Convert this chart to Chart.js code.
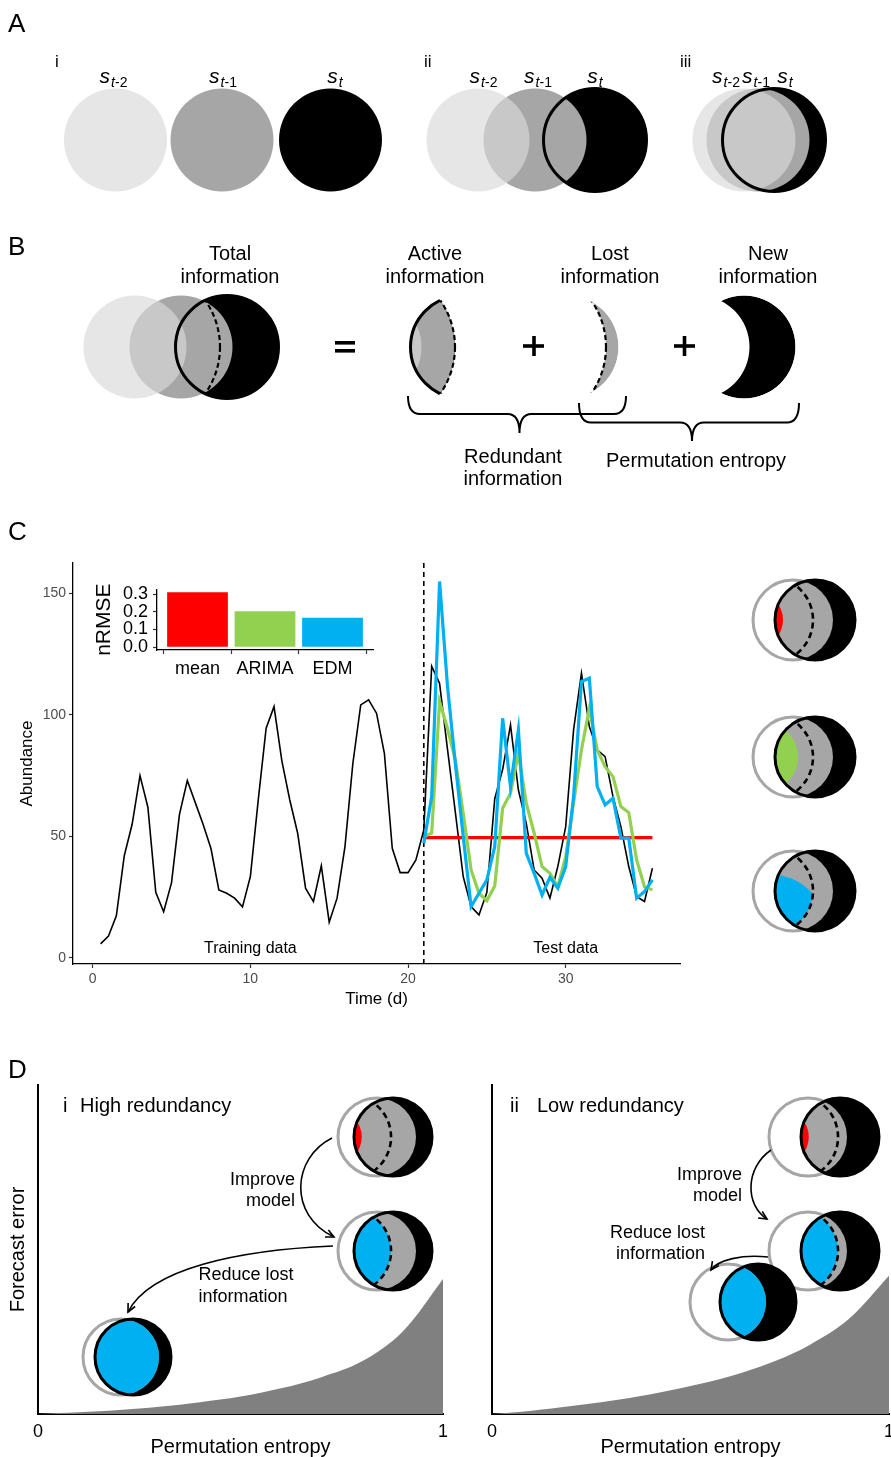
<!DOCTYPE html>
<html>
<head>
<meta charset="utf-8">
<script src="https://cdn.jsdelivr.net/npm/chart.js@4.4.0/dist/chart.umd.min.js"></script>
<style>
  html, body { margin: 0; padding: 0; background: #fff; }
  #page { position: relative; width: 891px; height: 1457px; overflow: hidden; background: #fff; }
  #page canvas { position: absolute; }
  #art { left: 0; top: 0; pointer-events: none; }
</style>
</head>
<body>
<div id="page">
  <canvas id="ts" width="700" height="480" style="left:0;top:540px"></canvas>
  <canvas id="err" width="300" height="110" style="left:90px;top:575px"></canvas>
  <canvas id="dHigh" width="460" height="387" style="left:0;top:1070px"></canvas>
  <canvas id="dLow" width="421" height="387" style="left:470px;top:1070px"></canvas>
  <canvas id="art" width="891" height="1457"></canvas>
</div>
<script>
// ---------- data ----------
const days = [0.5, 1, 1.5, 2, 2.5, 3, 3.5, 4, 4.5, 5, 5.5, 6, 6.5, 7, 7.5, 8, 8.5, 9, 9.5, 10,
  10.5, 11, 11.5, 12, 12.5, 13, 13.5, 14, 14.5, 15, 15.5, 16, 16.5, 17, 17.5, 18, 18.5, 19, 19.5, 20,
  20.5, 21, 21.5, 22, 22.5, 23, 23.5, 24, 24.5, 25, 25.5, 26, 26.5, 27, 27.5, 28, 28.5, 29, 29.5, 30,
  30.5, 31, 31.5, 32, 32.5, 33, 33.5, 34, 34.5, 35, 35.5];
const observed = [5.8, 9.0, 17.3, 42, 55, 75, 62, 27, 19, 31, 59, 73, 64, 55, 45, 28, 26.6, 24.6, 21, 33.5,
  65, 94.5, 103.4, 81, 65, 51.3, 28.7, 23.2, 37.9, 14.7, 24.6, 45.8, 80, 104.1, 106.2, 100.7, 84.2, 45.1, 35.1, 35.1,
  40.3, 52.7, 120, 113, 86, 60, 33.5, 21.1, 17.7, 27, 65.5, 77.5, 95.9, 69.1, 55.4, 36.2, 32.8, 24.6, 37.6, 54,
  93.8, 117.2, 95.2, 85.6, 82.8, 66.4, 54, 37.6, 25.2, 23.2, 36.9];

const forecastDays = [21, 21.5, 22, 22.5, 23, 23.5, 24, 24.5, 25, 25.5, 26, 26.5, 27, 27.5, 28,
  28.5, 29, 29.5, 30, 30.5, 31, 31.5, 32, 32.5, 33, 33.5, 34, 34.5, 35, 35.5];
const meanForecast = [49.5, 49.5, 49.5, 49.5, 49.5, 49.5, 49.5, 49.5, 49.5, 49.5, 49.5, 49.5, 49.5, 49.5, 49.5,
  49.5, 49.5, 49.5, 49.5, 49.5, 49.5, 49.5, 49.5, 49.5, 49.5, 49.5, 49.5, 49.5, 49.5, 49.5];
const arimaForecast = [50, 51.3, 105.5, 94.5, 81.5, 59.5, 36.2, 26.6, 23.6, 29.6, 61.6, 67.8, 84.2, 63.7, 51.3,
  37.6, 34.8, 29.3, 41.7, 63.7, 85.6, 102.7, 85.6, 78.7, 74.6, 62.3, 59.8, 40.3, 29.3, 28.0];
const edmForecast = [47.2, 66.4, 154.9, 112, 80, 50, 21.1, 26.6, 32.1, 45.8, 98.6, 70.5, 93.8, 43.1, 34.8,
  25.9, 33.2, 28.7, 37.6, 66.4, 113.7, 115.1, 70.5, 63, 65.7, 49.3, 49.3, 24.6, 27.3, 32.1];

const splitDay = 21;
const timeTicks = [0, 10, 20, 30];
const abundanceTicks = [0, 50, 100, 150];
const phaseLabels = ['Training data', 'Test data'];
const phaseLabelDays = [10, 30];

const methods = ['mean', 'ARIMA', 'EDM'];
const methodColors = ['#ff0000', '#92d050', '#00b0f0'];
const nrmse = [0.311, 0.203, 0.167];
const nrmseTicks = [0, 0.1, 0.2, 0.3];

const entropyGrid = [0, 0.1, 0.2, 0.3, 0.4, 0.5, 0.6, 0.7, 0.8, 0.9, 1];
const errorHighRedundancy = [0, 0.005, 0.012, 0.022, 0.036, 0.053, 0.078, 0.112, 0.16, 0.25, 0.41];
const errorLowRedundancy = [0, 0.01, 0.024, 0.04, 0.06, 0.085, 0.115, 0.155, 0.21, 0.29, 0.42];
const entropyTicks = [0, 1];

// ---------- shared style ----------
const FONT = "'Liberation Sans', Arial, Helvetica, sans-serif";
Chart.defaults.font.family = FONT;
Chart.defaults.animation = false;
Chart.defaults.plugins.legend.display = false;
Chart.defaults.plugins.tooltip.enabled = false;

const pts = (xs, ys) => xs.map((x, i) => ({ x, y: ys[i] }));
const fixTicks = values => scale => { scale.ticks = values.map(v => ({ value: v })); };
const noSidePad = scale => { scale.paddingLeft = 0; scale.paddingRight = 0; };

// ---------- panel C: abundance time series ----------
const yLo = -2.5, yHi = 162.5;
const phaseText = {
  id: 'phaseText',
  afterDatasetsDraw(chart) {
    const { ctx, scales: { x }, chartArea } = chart;
    ctx.save();
    ctx.font = `16px ${FONT}`;
    ctx.fillStyle = '#000';
    ctx.textAlign = 'center';
    ctx.textBaseline = 'alphabetic';
    phaseLabels.forEach((t, i) => ctx.fillText(t, x.getPixelForValue(phaseLabelDays[i]), chartArea.bottom - 11));
    ctx.restore();
  }
};

new Chart(document.getElementById('ts'), {
  type: 'line',
  data: {
    datasets: [
      { label: 'EDM', data: pts(forecastDays, edmForecast), borderColor: '#00b0f0', borderWidth: 3.2, order: 0 },
      { label: 'ARIMA', data: pts(forecastDays, arimaForecast), borderColor: '#92d050', borderWidth: 3.2, order: 1 },
      { label: 'mean', data: pts(forecastDays, meanForecast), borderColor: '#ff0000', borderWidth: 3.2, order: 2 },
      { label: 'Observed', data: pts(days, observed), borderColor: '#000', borderWidth: 1.6, order: 3 },
      { label: 'split', data: [{ x: splitDay, y: yLo }, { x: splitDay, y: yHi }], borderColor: '#000',
        borderWidth: 1.6, borderDash: [5, 4], order: 4 }
    ]
  },
  options: {
    responsive: false,
    elements: { point: { radius: 0 }, line: { tension: 0, fill: false, borderCapStyle: 'butt', borderJoinStyle: 'miter' } },
    layout: { padding: { left: 0, top: 23, right: 20, bottom: 0 } },
    scales: {
      x: {
        type: 'linear', min: -1.25, max: 37.25,
        afterBuildTicks: fixTicks(timeTicks),
        afterFit: s => { s.height = 56; noSidePad(s); },
        ticks: { font: { size: 14 }, color: '#4d4d4d', padding: 3, maxRotation: 0, autoSkip: false },
        grid: { drawOnChartArea: false, drawTicks: true, tickLength: 4, color: '#333', tickWidth: 1.2 },
        border: { display: true, color: '#000', width: 1.3 },
        title: { display: true, text: 'Time (d)', color: '#000', font: { size: 17, lineHeight: 1.2 }, padding: { top: 0, bottom: 10 } }
      },
      y: {
        type: 'linear', min: yLo, max: yHi,
        afterBuildTicks: fixTicks(abundanceTicks),
        afterFit: s => { s.width = 73; },
        ticks: { font: { size: 14 }, color: '#4d4d4d', padding: 3, autoSkip: false },
        grid: { drawOnChartArea: false, drawTicks: true, tickLength: 4, color: '#333', tickWidth: 1.2 },
        border: { display: true, color: '#000', width: 1.3 },
        title: { display: true, text: 'Abundance', color: '#000', font: { size: 17, lineHeight: 1.2 }, padding: { top: 17, bottom: 0 } }
      }
    }
  },
  plugins: [phaseText]
});

// ---------- panel C inset: forecast skill ----------
new Chart(document.getElementById('err'), {
  type: 'bar',
  data: {
    datasets: [{ data: pts([1, 2, 3], nrmse), backgroundColor: methodColors, borderWidth: 0,
      categoryPercentage: 1, barPercentage: 0.9 }]
  },
  options: {
    responsive: false,
    layout: { padding: { left: 0, top: 14.3, right: 17, bottom: 0 } },
    scales: {
      x: {
        type: 'linear', min: 0.4, max: 3.6, offset: false,
        afterBuildTicks: fixTicks([1, 2, 3]),
        afterFit: s => { s.height = 35; noSidePad(s); },
        ticks: { font: { size: 18 }, color: '#000', padding: 4, maxRotation: 0, autoSkip: false, callback: v => methods[v - 1] },
        grid: { drawOnChartArea: false, drawTicks: true, tickLength: 4, color: '#333', tickWidth: 1.2 },
        border: { display: true, color: '#000', width: 1.3 }
      },
      y: {
        type: 'linear', min: -0.0156, max: 0.327,
        afterBuildTicks: fixTicks(nrmseTicks),
        afterFit: s => { s.width = 67; },
        ticks: { font: { size: 18, lineHeight: 1.0 }, color: '#000', padding: 5, autoSkip: false, callback: v => v.toFixed(1) },
        grid: { drawOnChartArea: false, drawTicks: true, tickLength: 4, color: '#333', tickWidth: 1.2 },
        border: { display: true, color: '#000', width: 1.3 },
        title: { display: true, text: 'nRMSE', color: '#000', font: { size: 21, lineHeight: 1.2 }, padding: { top: 2, bottom: 0 } }
      }
    }
  }
});

// ---------- panel D: forecast error vs permutation entropy ----------
function entropyChart(id, curve, showTitle, yWidth, padRight) {
  return new Chart(document.getElementById(id), {
    type: 'line',
    data: { datasets: [{ data: pts(entropyGrid, curve), borderWidth: 0, borderColor: 'rgba(0,0,0,0)',
      backgroundColor: '#808080', fill: 'origin', pointRadius: 0, tension: 0.35 }] },
    options: {
      responsive: false,
      layout: { padding: { left: 0, top: 15, right: padRight, bottom: 0 } },
      scales: {
        x: {
          type: 'linear', min: 0, max: 1,
          afterBuildTicks: fixTicks(entropyTicks),
          afterFit: s => { s.height = 43; noSidePad(s); },
          ticks: { font: { size: 18, lineHeight: 1.0 }, color: '#000', padding: 1, maxRotation: 0, autoSkip: false },
          grid: { display: false },
          border: { display: true, color: '#000', width: 2 },
          title: { display: true, text: 'Permutation entropy', color: '#000', font: { size: 20, lineHeight: 1.0 }, padding: { top: 0, bottom: 0 } }
        },
        y: {
          type: 'linear', min: 0, max: 1,
          afterFit: s => { s.width = yWidth; },
          ticks: { display: false },
          grid: { display: false },
          border: { display: true, color: '#000', width: 2 },
          title: { display: showTitle, text: 'Forecast error', color: '#000', font: { size: 20, lineHeight: 1.0 }, padding: { top: 8, bottom: 0 } }
        }
      }
    }
  });
}
entropyChart('dHigh', errorHighRedundancy, true, 38, 17);
entropyChart('dLow', errorLowRedundancy, false, 22, 2);

// ---------- schematic drawings ----------
const cv = document.getElementById('art');
const ctx = cv.getContext('2d');
const GREY = '#a6a6a6';
const PALE = 'rgba(217,217,217,0.66)';

function circlePath(x, y, r) { ctx.beginPath(); ctx.arc(x, y, r, 0, Math.PI * 2); }
function fillCircle(x, y, r, c) { circlePath(x, y, r); ctx.fillStyle = c; ctx.fill(); }
function strokeCircle(x, y, r, c, w, dash) {
  circlePath(x, y, r); ctx.strokeStyle = c; ctx.lineWidth = w; ctx.setLineDash(dash || []); ctx.stroke(); ctx.setLineDash([]);
}
function clipCircle(x, y, r) { circlePath(x, y, r); ctx.clip(); }
function clipOutsideCircle(x, y, r) {
  ctx.beginPath(); ctx.rect(-2000, -2000, 5000, 5000); ctx.arc(x, y, r, 0, Math.PI * 2); ctx.clip('evenodd');
}
function label(str, x, y, size, align, weight) {
  ctx.font = `${weight || 'normal'} ${size}px ${FONT}`;
  ctx.textAlign = align || 'center'; ctx.textBaseline = 'alphabetic'; ctx.fillStyle = '#000';
  ctx.fillText(str, x, y);
}
function stateLabel(cx, y, lag) {
  const big = `italic 21px ${FONT}`, subI = `italic 14px ${FONT}`, subN = `14px ${FONT}`;
  ctx.font = big; const ws = ctx.measureText('s').width;
  ctx.font = subI; const wt = ctx.measureText('t').width;
  ctx.font = subN; const wn = lag ? ctx.measureText(lag).width : 0;
  let x = cx - (ws + 1 + wt + wn) / 2;
  ctx.textAlign = 'left'; ctx.fillStyle = '#000'; ctx.textBaseline = 'alphabetic';
  ctx.font = big; ctx.fillText('s', x, y); x += ws + 1;
  ctx.font = subI; ctx.fillText('t', x, y + 4); x += wt;
  if (lag) { ctx.font = subN; ctx.fillText(lag, x, y + 4); }
}

// Panel A
label('A', 8, 32, 26, 'left');
label('i', 55, 67, 17, 'left');
label('ii', 424, 67, 17, 'left');
label('iii', 680, 67, 17, 'left');

const rA = 51.5, yA = 140;
fillCircle(115.5, yA, rA, '#e6e6e6');
fillCircle(222, yA, rA, GREY);
fillCircle(330.5, yA, rA, '#000');
stateLabel(113.5, 83, '-2'); stateLabel(223, 83, '-1'); stateLabel(335, 83, '');

function stack(c1, c2, c3, y, r) {
  fillCircle(c3, y, r, '#000');
  fillCircle(c2, y, r, GREY);
  fillCircle(c1, y, r, PALE);
  strokeCircle(c3, y, r, '#000', 3);
}
stack(478, 535, 595, yA, rA);
stateLabel(483.5, 83, '-2'); stateLabel(538, 83, '-1'); stateLabel(595, 83, '');
stack(744, 758, 774, yA, rA);
stateLabel(726, 83, '-2'); stateLabel(756, 83, '-1'); stateLabel(785, 83, '');

// Panel B
label('B', 8, 255, 26, 'left');
const Bg = { y: 347, r: 51.5, c1: 135, c2: 181, c3: 227, dx: 139, dR: 81 };
function bFills() {
  fillCircle(Bg.c3, Bg.y, Bg.r, '#000');
  fillCircle(Bg.c2, Bg.y, Bg.r, GREY);
  fillCircle(Bg.c1, Bg.y, Bg.r, PALE);
}
function bDashed() {
  ctx.save(); clipCircle(Bg.c3, Bg.y, Bg.r);
  strokeCircle(Bg.dx, Bg.y, Bg.dR, '#000', 2.2, [5, 3]);
  ctx.restore();
}
// total information
bFills();
bDashed();
strokeCircle(Bg.c3, Bg.y, Bg.r, '#000', 3);
// active information
ctx.save(); ctx.translate(235, 0);
ctx.save(); clipCircle(Bg.c3, Bg.y, Bg.r); clipCircle(Bg.c2, Bg.y, Bg.r + 1); clipCircle(Bg.dx, Bg.y, Bg.dR); bFills(); ctx.restore();
bDashed();
ctx.save(); clipCircle(Bg.dx, Bg.y, Bg.dR); strokeCircle(Bg.c3, Bg.y, Bg.r, '#000', 3); ctx.restore();
ctx.restore();
// lost information
ctx.save(); ctx.translate(386, 0);
ctx.save(); clipCircle(Bg.c3, Bg.y, Bg.r); clipCircle(Bg.c2, Bg.y, Bg.r); clipOutsideCircle(Bg.dx, Bg.y, Bg.dR);
fillCircle(Bg.c2, Bg.y, Bg.r, GREY); ctx.restore();
ctx.save(); clipCircle(Bg.c2, Bg.y, Bg.r); bDashed(); ctx.restore();
ctx.restore();
// new information
ctx.save(); ctx.translate(517, 0);
clipCircle(Bg.c3, Bg.y, Bg.r); clipOutsideCircle(Bg.c2, Bg.y, Bg.r);
fillCircle(Bg.c3, Bg.y, Bg.r, '#000');
ctx.restore();

// operators
ctx.fillStyle = '#000';
ctx.fillRect(335, 341, 20, 3.6); ctx.fillRect(335, 349, 20, 3.6);
ctx.fillRect(523, 344.2, 21, 3.6); ctx.fillRect(532.2, 336, 3.6, 20);
ctx.fillRect(674, 344.2, 21, 3.6); ctx.fillRect(682.7, 336, 3.6, 20);

label('Total', 230, 260, 20); label('information', 230, 283, 20);
label('Active', 435, 260, 20); label('information', 435, 283, 20);
label('Lost', 610, 260, 20); label('information', 610, 283, 20);
label('New', 768, 260, 20); label('information', 768, 283, 20);

function brace(x0, x1, xm, yTop, yBar, yTip) {
  const k = 12;
  ctx.beginPath();
  ctx.moveTo(x0, yTop);
  ctx.quadraticCurveTo(x0, yBar, x0 + k, yBar);
  ctx.lineTo(xm - k, yBar);
  ctx.quadraticCurveTo(xm, yBar, xm, yTip);
  ctx.quadraticCurveTo(xm, yBar, xm + k, yBar);
  ctx.lineTo(x1 - k, yBar);
  ctx.quadraticCurveTo(x1, yBar, x1, yTop);
  ctx.strokeStyle = '#000'; ctx.lineWidth = 2; ctx.stroke();
}
brace(408, 626, 519.5, 396, 414, 433);
brace(579, 799, 692, 403, 422.5, 441);
label('Redundant', 513, 463, 20); label('information', 513, 485, 20);
label('Permutation entropy', 696, 467, 20);

// information glyphs (panels C and D)
function glyph(cx, cy, r, off, o) {
  ctx.save();
  strokeCircle(cx - off, cy, r, GREY, 3);
  fillCircle(cx, cy, r, '#000');
  ctx.save();
  clipCircle(cx, cy, r);
  fillCircle(cx - off, cy, r, GREY);
  if (o.color) {
    ctx.save();
    if (o.region === 'lens') clipCircle(cx - o.lo * r, cy, o.lr * r);
    if (o.region === 'active') { clipCircle(cx - off, cy, r); clipCircle(cx - o.dOff * r, cy, o.dR * r); }
    if (o.region === 'corner') { clipCircle(cx - o.dOff * r, cy, o.dR * r); clipCircle(cx - 1.125 * r, cy + 0.98 * r, 1.4 * r); }
    if (o.region === 'overlap') clipCircle(cx - off, cy, r);
    ctx.fillStyle = o.color; ctx.fillRect(cx - 2 * r, cy - 2 * r, 4 * r, 4 * r);
    ctx.restore();
  }
  if (o.dOff) {
    ctx.beginPath(); ctx.arc(cx - o.dOff * r, cy, o.dR * r, -Math.PI / 2, Math.PI / 2);
    ctx.strokeStyle = '#000'; ctx.lineWidth = 2.6; ctx.setLineDash([6, 4]); ctx.stroke(); ctx.setLineDash([]);
  }
  ctx.restore();
  strokeCircle(cx, cy, r, '#000', 3);
  ctx.restore();
}
const dashC = { dOff: 1.125, dR: 1.075 };
label('C', 8, 540, 26, 'left');
glyph(815, 620, 40, 22, { ...dashC, color: '#ff0000', region: 'lens', lo: 1.5, lr: 0.7 });
glyph(815, 757, 40, 22, { ...dashC, color: '#92d050', region: 'lens', lo: 1.29, lr: 0.87 });
glyph(815, 891, 40, 22, { ...dashC, color: '#00b0f0', region: 'corner' });

// Panel D
label('D', 8, 1078, 26, 'left');
label('i', 63, 1112, 20, 'left'); label('High redundancy', 80, 1112, 20, 'left');
label('ii', 510, 1112, 20, 'left'); label('Low redundancy', 537, 1112, 20, 'left');

glyph(393, 1137, 39, 16, { ...dashC, color: '#ff0000', region: 'lens', lo: 1.5, lr: 0.7 });
glyph(393, 1251, 39, 16, { ...dashC, color: '#00b0f0', region: 'active' });
glyph(133, 1357, 38, 12, { color: '#00b0f0', region: 'overlap' });

glyph(840, 1137, 39, 32, { ...dashC, color: '#ff0000', region: 'lens', lo: 1.5, lr: 0.7 });
glyph(840, 1251, 39, 32, { ...dashC, color: '#00b0f0', region: 'active' });
glyph(758, 1302, 38, 30, { color: '#00b0f0', region: 'overlap' });

function curvedArrow(p0, c1, c2, p1) {
  ctx.beginPath(); ctx.moveTo(...p0); ctx.bezierCurveTo(...c1, ...c2, ...p1);
  ctx.strokeStyle = '#000'; ctx.lineWidth = 1.6; ctx.stroke();
  const a = Math.atan2(p1[1] - c2[1], p1[0] - c2[0]), L = 9, s = 0.45;
  ctx.beginPath();
  ctx.moveTo(p1[0] - L * Math.cos(a - s), p1[1] - L * Math.sin(a - s));
  ctx.lineTo(p1[0], p1[1]);
  ctx.lineTo(p1[0] - L * Math.cos(a + s), p1[1] - L * Math.sin(a + s));
  ctx.stroke();
}
curvedArrow([332, 1138], [292, 1158], [288, 1215], [334, 1237]);
curvedArrow([333, 1246], [240, 1250], [150, 1268], [128, 1312]);
label('Improve', 295, 1185, 18, 'right'); label('model', 295, 1206, 18, 'right');
label('Reduce lost', 246, 1280, 18); label('information', 243, 1302, 18);

curvedArrow([771, 1150], [745, 1168], [745, 1205], [767, 1219]);
curvedArrow([768, 1257], [742, 1254], [718, 1260], [711, 1270]);
label('Improve', 742, 1180, 18, 'right'); label('model', 742, 1201, 18, 'right');
label('Reduce lost', 705, 1238, 18, 'right'); label('information', 705, 1259, 18, 'right');
</script>
</body>
</html>
